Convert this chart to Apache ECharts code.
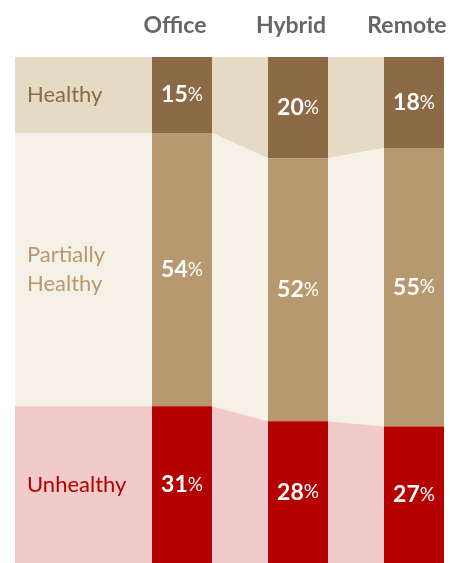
<!DOCTYPE html>
<html>
<head>
<meta charset="utf-8">
<style>html,body{margin:0;padding:0;background:#fff;}#c{width:468px;height:563px;}</style>
<script src="https://cdn.jsdelivr.net/npm/echarts@6/dist/echarts.min.js"></script>
</head>
<body>
<div id="c"></div>
<script>
const categories = ['Office', 'Hybrid', 'Remote'];
const segmentNames = ['Healthy', 'Partially\nHealthy', 'Unhealthy'];
const healthy = [15, 20, 18];
const partiallyHealthy = [54, 52, 55];
const unhealthy = [31, 28, 27];

const seriesValues = [healthy, partiallyHealthy, unhealthy];
const barColors = ['#8B6A45', '#B8996F', '#B40000'];
const bandColors = ['#E5DAC4', '#F6F1E6', '#F3CACA'];
const labelColors = ['#8B6A45', '#B8996F', '#B40000'];
const FONT = 'Lato, "Open Sans", sans-serif';
const BAR_W = 60;
const LEFT_EDGE = 15;
const LABEL_X = 27;

const chart = echarts.init(document.getElementById('c'), null, {renderer: 'canvas'});

function cumStart(seg, cat) {
  let s = 0;
  for (let k = 0; k < seg; k++) s += seriesValues[k][cat];
  return s;
}

function renderBand(params, api) {
  const seg = params.dataIndex;
  const half = BAR_W / 2;
  const top = [], bottom = [];
  for (let c = 0; c < categories.length; c++) {
    const s = cumStart(seg, c);
    const e = s + seriesValues[seg][c];
    const ps = api.coord([c, s]);
    const pe = api.coord([c, e]);
    const xl = c === 0 ? LEFT_EDGE : ps[0] - half;
    top.push([xl, ps[1]], [ps[0] + half, ps[1]]);
    bottom.push([xl, pe[1]], [pe[0] + half, pe[1]]);
  }
  const points = top.concat(bottom.reverse());
  const s0 = api.coord([0, cumStart(seg, 0)]);
  const e0 = api.coord([0, cumStart(seg, 0) + seriesValues[seg][0]]);
  return {
    type: 'group',
    children: [
      {type: 'polygon', shape: {points: points}, style: {fill: bandColors[seg]}},
      {type: 'text', style: {
        text: segmentNames[seg], x: LABEL_X, y: (s0[1] + e0[1]) / 2,
        fill: labelColors[seg], font: 'normal 22px ' + FONT,
        verticalAlign: 'middle', align: 'left', lineHeight: 29
      }}
    ]
  };
}

const barSeries = seriesValues.map((vals, i) => ({
  type: 'bar',
  name: segmentNames[i],
  stack: 'total',
  data: vals,
  barWidth: BAR_W,
  clip: false,
  z: 3,
  itemStyle: {color: barColors[i]},
  label: {
    show: true,
    position: 'inside',
    formatter: p => '{n|' + p.value + '}{p|%}',
    rich: {
      n: {color: '#fff', fontFamily: FONT, fontWeight: 'bold', fontSize: 23},
      p: {color: '#fff', fontFamily: FONT, fontWeight: 'normal', fontSize: 19}
    }
  }
}));

chart.setOption({
  animation: false,
  grid: {left: 182, right: 54, top: 57, bottom: 0},
  xAxis: {
    type: 'category',
    data: categories,
    boundaryGap: false,
    position: 'top',
    axisLine: {show: false},
    axisTick: {show: false},
    splitLine: {show: false},
    axisLabel: {color: '#666', fontFamily: FONT, fontWeight: 'bold', fontSize: 23, margin: 20, padding: [0, 14, 0, 0]}
  },
  yAxis: {type: 'value', min: 0, max: 100, inverse: true, show: false},
  series: [{
    type: 'custom',
    coordinateSystem: 'cartesian2d',
    renderItem: renderBand,
    clip: false,
    z: 1,
    data: segmentNames.map((n, i) => [i, 0])
  }].concat(barSeries)
});
</script>
</body>
</html>
